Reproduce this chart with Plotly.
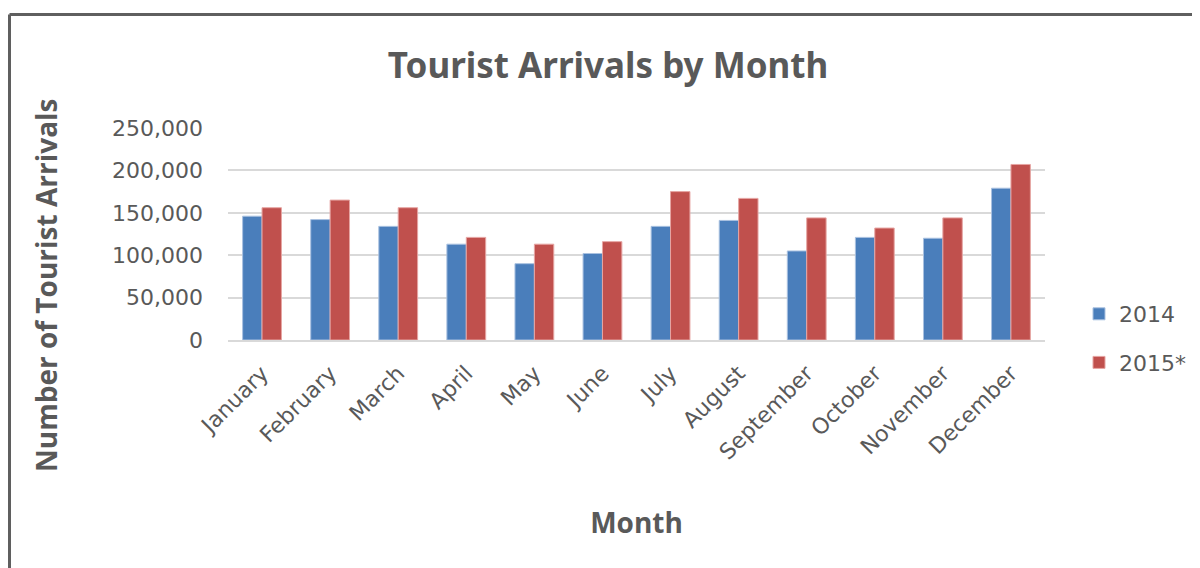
import plotly.graph_objects as go

months = ["January", "February", "March", "April", "May", "June", "July",
          "August", "September", "October", "November", "December"]
arrivals_2014 = [146000, 142000, 134000, 113000, 90000, 102000, 134000,
                 141000, 105000, 121000, 120000, 179000]
arrivals_2015 = [156000, 165000, 156000, 121000, 113000, 116000, 175000,
                 167000, 144000, 132000, 144000, 207000]
series_names = ["2014", "2015*"]
y_ticks = [0, 50000, 100000, 150000, 200000, 250000]
y_tick_text = ["0", "50,000", "100,000", "150,000", "200,000", "250,000"]

GRAY = "#595959"
OFF = 8  # page body margin
W, H = 1200, 568
L = 228 - OFF
T = 128 - OFF
R = W - (1045 - OFF)
B = H - (340 - OFF)
PW, PH = W - L - R, H - T - B

def px_x(px):
    return (px - OFF - L) / PW

def px_y(py):
    return (H - B - (py - OFF)) / PH

fig = go.Figure()
fig.add_trace(go.Bar(x=months, y=arrivals_2014, name=series_names[0],
                     marker=dict(color="#4a7ebb", line=dict(color="#a9c1e0", width=1)),
                     legendgroup="a"))
fig.add_trace(go.Bar(x=months, y=arrivals_2015, name=series_names[1],
                     marker=dict(color="#c0504d", line=dict(color="#e6a5a3", width=1)),
                     legendgroup="b"))

fig.update_layout(
    width=W, height=H,
    margin=dict(l=L, r=R, t=T, b=B, autoexpand=False),
    paper_bgcolor="white", plot_bgcolor="white",
    barmode="group", bargap=0.43, bargroupgap=0,
    font=dict(family="DejaVu Sans", color=GRAY, size=22),
    title=dict(text="<b>Tourist Arrivals by Month</b>", x=(608 - OFF) / W, xref="container",
               xanchor="center", y=1 - (66 - OFF) / H, yanchor="middle",
               font=dict(family="Noto Sans", size=35, color=GRAY)),
    legend=dict(x=px_x(1079), y=px_y(293), xanchor="left", yanchor="top",
                font=dict(family="DejaVu Sans", size=22, color=GRAY),
                tracegroupgap=17, itemwidth=30, bgcolor="rgba(0,0,0,0)"),
    showlegend=True,
    annotations=[
        dict(text="<b>Number of Tourist Arrivals</b>", textangle=-90,
             xref="paper", yref="paper", x=px_x(46), y=px_y(285),
             xanchor="center", yanchor="middle", showarrow=False,
             font=dict(family="Open Sans", size=28, color=GRAY)),
    ],
    shapes=[
        dict(type="line", xref="paper", yref="paper",
             x0=px_x(9.5), x1=px_x(1215), y0=px_y(14.5), y1=px_y(14.5),
             line=dict(color="#5f5f5f", width=3)),
        dict(type="line", xref="paper", yref="paper",
             x0=px_x(9.5), x1=px_x(9.5), y0=px_y(14.5), y1=px_y(590),
             line=dict(color="#5f5f5f", width=3)),
    ],
)

fig.update_yaxes(range=[0, 250000], tickvals=y_ticks, ticktext=y_tick_text,
                 showgrid=True, gridcolor="#d9d9d9", gridwidth=1.5,
                 zeroline=False, showline=False, ticklabelstandoff=24)
fig.update_xaxes(tickangle=-45, showline=True, linecolor="#d9d9d9", linewidth=1.5,
                 ticklabelstandoff=10,
                 title=dict(text="<b>Month</b>", standoff=50,
                            font=dict(family="Open Sans", size=28, color=GRAY)))

fig.write_html("out.html")
